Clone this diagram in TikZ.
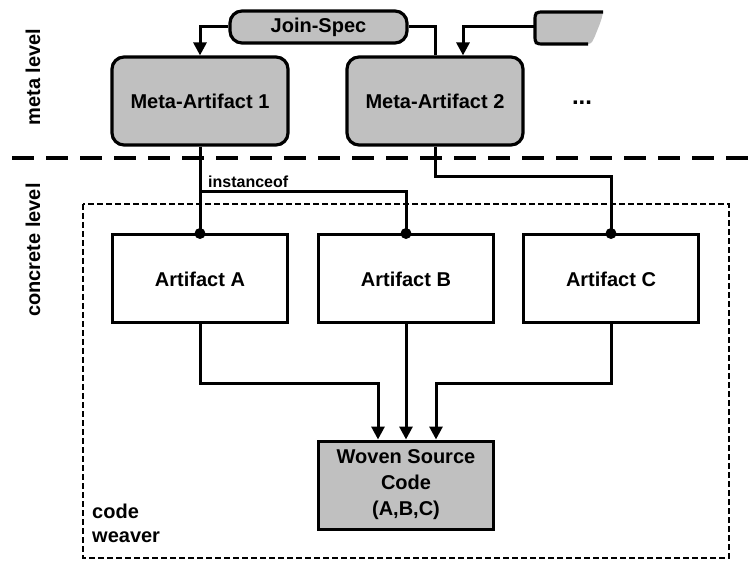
\documentclass[tikz,border=0pt]{standalone}
\usepackage{fontspec}
\setmainfont{Liberation Sans}
\usetikzlibrary{arrows.meta}
\definecolor{boxgray}{RGB}{192,192,192}
\begin{document}
\begin{tikzpicture}[x=1pt,y=-1pt,
  lbl/.style={font=\fontsize{20}{24}\selectfont\bfseries},
  metabox/.style={draw, line width=3.2pt, fill=boxgray, rounded corners=12pt,
    minimum width=176pt, minimum height=88pt, lbl},
  specbox/.style={draw, line width=3.2pt, fill=boxgray, rounded corners=12pt,
    minimum width=177pt, minimum height=32pt, inner sep=0pt, lbl},
  artbox/.style={draw, line width=3pt, fill=white,
    minimum width=175pt, minimum height=88pt, lbl},
  conn/.style={line width=3pt},
  arr/.style={conn, -{Triangle[length=13pt,width=13pt]}},
  joint/.style={circle, fill=black, inner sep=0pt, minimum size=11pt},
]
\useasboundingbox (0,0) rectangle (750,561);

% level labels and separator
\node[lbl, rotate=90] (metalbl) at (33,77) {meta level};
\node[lbl, rotate=90] (conclbl) at (33,250) {concrete level};
\draw[line width=4pt, dash pattern=on 22pt off 12pt] (12,158) -- (750,158);

% code weaver frame
\draw[line width=2.8pt, dash pattern=on 6pt off 3pt] (83,204) rectangle (729,558);
\node[lbl, align=left, anchor=north west, inner sep=0pt] (cw) at (92,504) {code\\weaver};

% meta level
\node[specbox] (join) at (318.5,27) {Join-Spec};
\fill[boxgray] (603,12) -- (545,12) .. controls (535,12) .. (535,22) -- (535,34)
  .. controls (535,44) .. (545,44) -- (588,44) .. controls (592,44) and (593,40) .. (595,36)
  .. controls (598,28) and (602,20) .. (603,12) -- cycle;
\draw[line width=3.2pt] (603,12) -- (545,12) .. controls (535,12) .. (535,22) -- (535,34)
  .. controls (535,44) .. (545,44) -- (588,44);
\coordinate (more) at (535,27);

\node[metabox] (m1) at (200,101) {Meta-Artifact 1};
\node[metabox] (m2) at (435,101) {Meta-Artifact 2};
\node[font=\fontsize{24}{24}\selectfont\bfseries] (dots) at (582,103) {...};

% concrete level
\node[artbox] (a) at (200,279) {Artifact A};
\node[artbox] (b) at (406,279) {Artifact B};
\node[artbox] (c) at (611,279) {Artifact C};
\node[artbox, fill=boxgray, align=center, font=\fontsize{20}{26}\selectfont\bfseries]
  (w) at (406,485) {Woven Source\\Code\\(A,B,C)};

% join specifications
\draw[arr] (join.west) -| (m1.north);
\draw[conn] (join.east) -| (m2.north);
\draw[arr] (more) -| ([xshift=28pt]m2.north);

% instantiation
\coordinate (split) at (200,192);
\draw[conn] (m1.south) -- (a.north);
\draw[conn] (split) -| (b.north);
\draw[conn] (m2.south) -- ++(0,30) -| (c.north);
\node[font=\fontsize{16}{19}\selectfont\bfseries, anchor=base west, inner sep=0pt] (inst) at (208,188) {instanceof};
\node[joint] (ja) at (a.north) {};
\node[joint] (jb) at (b.north) {};
\node[joint] (jc) at (c.north) {};

% weaving
\draw[arr] (a.south) -- ++(0,59) -| ([xshift=-28pt]w.north);
\draw[arr] (b.south) -- (w.north);
\draw[arr] (c.south) -- ++(0,59) -| ([xshift=30pt]w.north);
\end{tikzpicture}
\end{document}
